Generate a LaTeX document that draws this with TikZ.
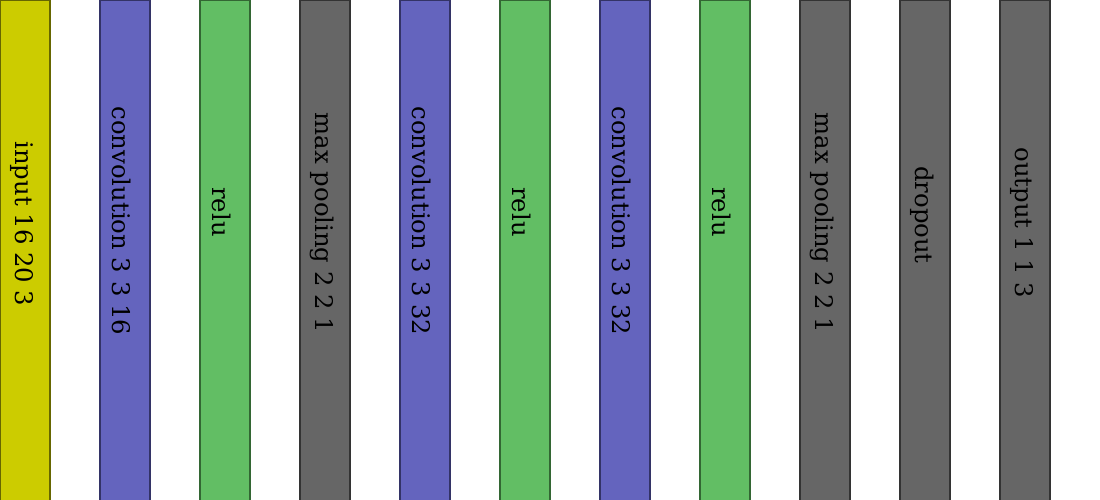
\documentclass[tikz,border=0pt]{standalone}
\usepackage{fontspec}
\setmainfont{DejaVu Serif}
\usepackage{tikz}
\usetikzlibrary{positioning}

\definecolor{inpfill}{RGB}{204,204,0}
\definecolor{inpdraw}{RGB}{102,102,0}
\definecolor{convfill}{RGB}{100,100,190}
\definecolor{convdraw}{RGB}{51,51,102}
\definecolor{relufill}{RGB}{98,190,100}
\definecolor{reludraw}{RGB}{51,102,51}
\definecolor{poolfill}{RGB}{102,102,102}
\definecolor{pooldraw}{RGB}{51,51,51}

\begin{document}
\begin{tikzpicture}[x=1pt, y=1pt,
  camada/.style={rectangle,draw,line width=1.4pt,minimum width=50pt,
                 minimum height=520pt,inner sep=0pt},
  inp/.style={camada,fill=inpfill,draw=inpdraw},
  conv/.style={camada,fill=convfill,draw=convdraw},
  relu/.style={camada,fill=relufill,draw=reludraw},
  pool/.style={camada,fill=poolfill,draw=pooldraw},
  rotulo/.style={rotate=-90,inner sep=0pt,font=\fontsize{24.3}{28}\selectfont}]

  \useasboundingbox (0,0) rectangle (1100,500);
  \clip (0,0) rectangle (1100,500);

  % --- camadas ---
  \foreach \i/\tipo/\y/\txt in {0/inp/276/input 16 20 3, 1/conv/279/convolution 3 3 16,
      2/relu/288/relu, 3/pool/277/max pooling 2 2 1, 4/conv/279/convolution 3 3 32,
      5/relu/288/relu, 6/conv/279/convolution 3 3 32, 7/relu/288/relu,
      8/pool/277/max pooling 2 2 1, 9/pool/285/dropout, 10/pool/277/output 1 1 3}
  {
    \node[\tipo] (c\i) at (25+100*\i,240) {};
    \node[rotulo] (t\i) at (22+100*\i,\y) {\txt};
  }
\end{tikzpicture}
\end{document}
